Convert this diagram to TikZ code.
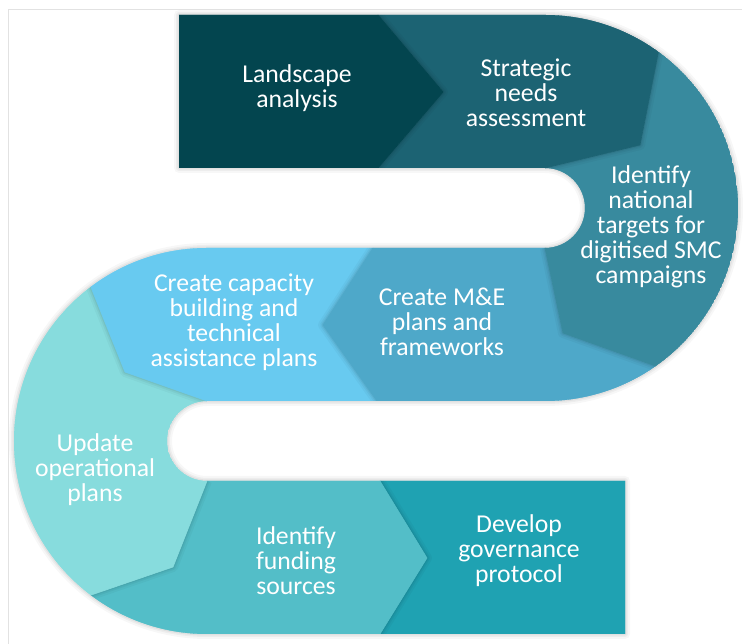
\documentclass[tikz,border=0pt]{standalone}
\usepackage{fontspec}
\setmainfont{Carlito}
\definecolor{framecol}{HTML}{E2E2E2}
\definecolor{landcol}{HTML}{03454F}
\definecolor{stratcol}{HTML}{1C6373}
\definecolor{targcol}{HTML}{388A9E}
\definecolor{mecol}{HTML}{4EA8C9}
\definecolor{capcol}{HTML}{68CAF0}
\definecolor{updcol}{HTML}{87DCDD}
\definecolor{fundcol}{HTML}{53BEC8}
\definecolor{govcol}{HTML}{1FA2B2}
%soft shadow along a path
\newcommand{\kshade}[1]{\foreach \w/\o in {10/0.03,6/0.04,3/0.05}{\draw[black,opacity=\o,line width=\w bp,line join=round]#1;}}
\begin{document}
\begin{tikzpicture}[x=1bp,y=1bp,
  seg/.style={fill=#1,draw=#1,line width=0.6bp,line join=round},
  lbl/.style={text=white,align=center,inner sep=0pt,font=\fontsize{25.8}{25}\selectfont}]
\pgfmathsetmacro{\kR}{193}
\pgfmathsetmacro{\kr}{40}
\useasboundingbox(0,0)rectangle(743,644);
%frame lines top and left
\draw[framecol,line width=1.5bp](8.5,0)--(8.5,634.5)--(742,634.5);
%centres of the two bends
\coordinate(cr)at(545,436);
\coordinate(cl)at(207,203);
%outline of the whole band
\def\snake{(179,629)--(545,629)arc[start angle=90,end angle=-90,radius=\kR bp]--(207,243)arc[start angle=90,end angle=270,radius=\kr bp]--(625,163)--(625,10)--(207,10)arc[start angle=270,end angle=90,radius=\kR bp]--(545,396)arc[start angle=-90,end angle=90,radius=\kr bp]--(179,476)--cycle}
\kshade{\snake}
\begin{scope}
\clip\snake;
%bottom band, drawn last step first so each step shades the next
\path[seg=govcol](380,10)--(625,10)--(625,163)--(380,163)--(427,86)--cycle;
\kshade{(380,10)--(427,86)--(380,163)}
\path[seg=fundcol]([shift={(cl)}]233:\kR bp)arc[start angle=233,end angle=270,radius=\kR bp]--(380,10)--(427,86)--(380,163)--(207,163)--(173,77)--cycle;
\kshade{([shift={(cl)}]233:\kR bp)--(173,77)--(207,163)}
%left bend
\path[seg=updcol]([shift={(cl)}]127:\kR bp)arc[start angle=127,end angle=233,radius=\kR bp]--(173,77)--(207,163)arc[start angle=270,end angle=90,radius=\kr bp]--(125,272)--cycle;
\kshade{([shift={(cl)}]127:\kR bp)--(125,272)--(207,243)}
%middle band
\path[seg=capcol](373,396)--(207,396)arc[start angle=90,end angle=127,radius=\kR bp]--(125,272)--(207,243)--(377,243)--(323,319)--cycle;
\kshade{(377,243)--(323,319)--(373,396)}
\path[seg=mecol]([shift={(cr)}]-55:\kR bp)arc[start angle=-55,end angle=-90,radius=\kR bp]--(377,243)--(323,319)--(373,396)--(545,396)--(563,311)--cycle;
\kshade{([shift={(cr)}]-55:\kR bp)--(563,311)--(545,396)}
%right bend
\path[seg=targcol]([shift={(cr)}]54:\kR bp)arc[start angle=54,end angle=-55,radius=\kR bp]--(563,311)--(545,396)arc[start angle=-90,end angle=90,radius=\kr bp]--(640,499)--cycle;
\kshade{([shift={(cr)}]54:\kR bp)--(640,499)--(545,476)}
%top band
\path[seg=stratcol](378,629)--(545,629)arc[start angle=90,end angle=54,radius=\kR bp]--(640,499)--(545,476)--(378,476)--(443,552)--cycle;
\kshade{(378,629)--(443,552)--(378,476)}
\path[seg=landcol](179,629)--(378,629)--(443,552)--(378,476)--(179,476)--cycle;
\end{scope}
%labels
\node[lbl](landscape)at(297,556){Landscape\\analysis};
\node[lbl](strategic)at(526,551){Strategic\\needs\\assessment};
\node[lbl](targets)at(651,417){Identify\\national\\targets for\\digitised SMC\\campaigns};
\node[lbl](mande)at(442,322){Create M\&E\\plans and\\frameworks};
\node[lbl](capacity)at(234,322){Create capacity\\building and\\technical\\assistance plans};
\node[lbl](update)at(95,174){Update\\operational\\plans};
\node[lbl](funding)at(296,83){Identify\\funding\\sources};
\node[lbl](governance)at(519,93){Develop\\governance\\protocol};
\end{tikzpicture}
\end{document}
